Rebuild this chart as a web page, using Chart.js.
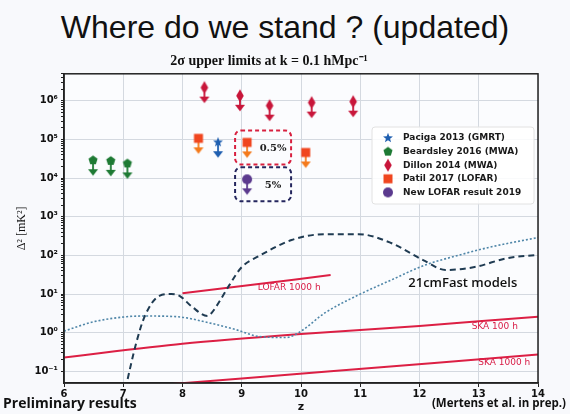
<!DOCTYPE html>
<html>
<head>
<meta charset="utf-8">
<script src="https://cdn.jsdelivr.net/npm/chart.js@4.4.1/dist/chart.umd.min.js"></script>
<style>
  body { margin: 0; background: #f8f9fc; width: 570px; height: 414px; overflow: hidden; }
  #title { height: 48px; text-align: center; font: 32px "Liberation Sans", Arial, sans-serif; line-height: 54px; color: #111; overflow: visible; }
  #wrap { position: relative; width: 570px; height: 366px; }
</style>
</head>
<body>
<div id="title">Where do we stand ? (updated)</div>
<div id="wrap"><canvas id="myChart" width="570" height="366"></canvas></div>
<script>
// upper limits (z, Delta^2 in mK^2)
const pacigaZ = [8.6];
const pacigaVal = [8.5e4];
const beardsleyZ = [6.49, 6.79, 7.07];
const beardsleyVal = [2.9e4, 2.8e4, 2.4e4];
const dillonZ = [8.37, 8.97, 9.47, 10.18, 10.88];
const dillonVal = [2.2e6, 1.35e6, 7.5e5, 9e5, 9.5e5];
const patilZ = [8.27, 9.09, 10.08];
const patilVal = [1.07e5, 8.4e4, 4.6e4];
const lofarZ = [9.09];
const lofarVal = [9.3e3];

// 21cmFast models
const dashedZ = [7.0, 7.22, 7.36, 7.61, 7.81, 7.95, 8.16, 8.42, 8.48, 8.62, 8.79, 9.0, 9.29, 9.84, 10.41, 10.97, 11.52, 12.09, 12.44, 12.93, 13.48, 14.0];
const dashedVal = [0.02, 0.55, 2.6, 9, 10, 9, 4.7, 2.7, 3.1, 6.3, 17, 50, 96, 250, 355, 355, 210, 72, 42, 50, 85, 104];
const dottedZ = [6.0, 6.49, 7.06, 7.39, 7.9, 8.45, 8.9, 9.29, 9.74, 9.96, 10.41, 10.97, 11.52, 12.09, 12.65, 13.2, 14.0];
const dottedVal = [1.1, 1.9, 2.6, 2.7, 2.6, 1.8, 1.2, 0.8, 0.75, 1.0, 3.3, 9.5, 23, 56, 100, 165, 290];

// sensitivity curves
const lofar1000Z = [8.0, 9.25, 10.5];
const lofar1000Val = [10.5, 18, 31];
const ska100Z = [6.0, 8.0, 10.0, 12.0, 14.0];
const ska100Val = [0.23, 0.52, 0.93, 1.5, 2.6];
const ska1000Z = [7.5, 10.5, 14.0];
const ska1000Val = [0.043, 0.1, 0.275];

// axis ticks
const xTicks = [6, 7, 8, 9, 10, 11, 12, 13, 14];
const yTickExps = [-1, 0, 1, 2, 3, 4, 5, 6];
const yTickLabels = ['10⁻¹', '10⁰', '10¹', '10²', '10³', '10⁴', '10⁵', '10⁶'];

// text placed in data coordinates
const curveLabels = [
  { text: 'LOFAR 1000 h', z: 9.8, v: 15, color: '#d81b45', font: '9px "DejaVu Sans"' },
  { text: 'SKA 100 h', z: 13.27, v: 1.43, color: '#d81b45', font: '9px "DejaVu Sans"' },
  { text: 'SKA 1000 h', z: 13.43, v: 0.17, color: '#d81b45', font: '9px "DejaVu Sans"' },
  { text: '21cmFast models', z: 12.73, v: 19.5, color: '#111', font: '600 13px "Open Sans"' }
];

const RED = '#dc1f44';

// marker images: the marker sits at the centre, the limit arrow hangs below it
function makeMarker(shape, color, arrowColor, withArrow) {
  const c = document.createElement('canvas');
  c.width = 16;
  c.height = withArrow ? 40 : 16;
  const ctx = c.getContext('2d');
  const cx = 8, cy = c.height / 2;
  if (withArrow) {
    ctx.strokeStyle = arrowColor;
    ctx.fillStyle = arrowColor;
    ctx.lineWidth = 1.8;
    ctx.beginPath();
    ctx.moveTo(cx, cy);
    ctx.lineTo(cx, cy + 10);
    ctx.stroke();
    ctx.beginPath();
    ctx.moveTo(cx - 5, cy + 9);
    ctx.lineTo(cx + 5, cy + 9);
    ctx.lineTo(cx, cy + 15.5);
    ctx.closePath();
    ctx.fill();
  }
  ctx.fillStyle = color;
  ctx.beginPath();
  if (shape === 'star') {
    for (let i = 0; i < 10; i++) {
      const r = i % 2 ? 2.2 : 5.2;
      const a = -Math.PI / 2 + i * Math.PI / 5;
      ctx.lineTo(cx + r * Math.cos(a), cy + r * Math.sin(a));
    }
  } else if (shape === 'pentagon') {
    for (let i = 0; i < 5; i++) {
      const a = -Math.PI / 2 + i * 2 * Math.PI / 5;
      ctx.lineTo(cx + 4.8 * Math.cos(a), cy + 4.8 * Math.sin(a));
    }
  } else if (shape === 'diamond') {
    ctx.moveTo(cx, cy - 6.5);
    ctx.lineTo(cx + 3.8, cy);
    ctx.lineTo(cx, cy + 6.5);
    ctx.lineTo(cx - 3.8, cy);
  } else if (shape === 'square') {
    ctx.rect(cx - 4.5, cy - 4.5, 9, 9);
  } else {
    ctx.arc(cx, cy, 5, 0, Math.PI * 2);
  }
  ctx.closePath();
  ctx.fill();
  return c;
}

const series = [
  { label: 'Paciga 2013 (GMRT)', z: pacigaZ, v: pacigaVal, shape: 'star', color: '#1f5fb0', arrow: '#1f5fb0' },
  { label: 'Beardsley 2016 (MWA)', z: beardsleyZ, v: beardsleyVal, shape: 'pentagon', color: '#1e7a34', arrow: '#1e7a34' },
  { label: 'Dillon 2014 (MWA)', z: dillonZ, v: dillonVal, shape: 'diamond', color: '#c8163a', arrow: '#c8163a' },
  { label: 'Patil 2017 (LOFAR)', z: patilZ, v: patilVal, shape: 'square', color: '#f0461f', arrow: '#f47a1c' },
  { label: 'New LOFAR result 2019', z: lofarZ, v: lofarVal, shape: 'circle', color: '#5b3a8e', arrow: '#5b3a8e' }
];

function pts(zs, vs) {
  return zs.map((z, i) => ({ x: z, y: vs[i] }));
}

const datasets = [
  { label: 'dashed', data: pts(dashedZ, dashedVal), showLine: true, borderColor: '#1f3b52', borderWidth: 2, borderDash: [6, 4], pointRadius: 0, cubicInterpolationMode: 'monotone' },
  { label: 'dotted', data: pts(dottedZ, dottedVal), showLine: true, borderColor: '#4f86a8', borderWidth: 1.6, borderDash: [2, 2], pointRadius: 0, cubicInterpolationMode: 'monotone' },
  { label: 'LOFAR 1000 h', data: pts(lofar1000Z, lofar1000Val), showLine: true, borderColor: RED, borderWidth: 2, pointRadius: 0, tension: 0.3 },
  { label: 'SKA 100 h', data: pts(ska100Z, ska100Val), showLine: true, borderColor: RED, borderWidth: 2, pointRadius: 0, tension: 0.3 },
  { label: 'SKA 1000 h', data: pts(ska1000Z, ska1000Val), showLine: true, borderColor: RED, borderWidth: 2, pointRadius: 0, tension: 0.3 }
];
series.forEach(s => {
  s.icon = makeMarker(s.shape, s.color, s.arrow, false);
  datasets.push({
    label: s.label,
    data: pts(s.z, s.v),
    showLine: false,
    pointStyle: makeMarker(s.shape, s.color, s.arrow, true),
    pointRadius: 8
  });
});

const bgPlugin = {
  id: 'bg',
  beforeDraw(chart) {
    const { ctx, chartArea: a } = chart;
    ctx.save();
    ctx.fillStyle = '#fbfcfe';
    ctx.fillRect(a.left, a.top, a.right - a.left, a.bottom - a.top);
    ctx.restore();
  }
};

const overlayPlugin = {
  id: 'overlay',
  afterDatasetsDraw(chart) {
    const { ctx, chartArea: a, scales } = chart;
    const xs = scales.x, ys = scales.y;
    ctx.save();

    // frame
    ctx.strokeStyle = '#222';
    ctx.lineWidth = 1.5;
    ctx.strokeRect(a.left, a.top, a.right - a.left, a.bottom - a.top);

    // curve labels
    ctx.textAlign = 'center';
    ctx.textBaseline = 'middle';
    curveLabels.forEach(l => {
      ctx.font = l.font;
      ctx.fillStyle = l.color;
      ctx.fillText(l.text, xs.getPixelForValue(l.z), ys.getPixelForValue(l.v));
    });

    // dashed boxes around the LOFAR z~9 limits
    const boxes = [
      { z: patilZ[1], v: patilVal[1], color: '#d8203f', text: '0.5%' },
      { z: lofarZ[0], v: lofarVal[0], color: '#24265e', text: '5%' }
    ];
    boxes.forEach(b => {
      const px = xs.getPixelForValue(b.z), py = ys.getPixelForValue(b.v);
      ctx.strokeStyle = b.color;
      ctx.lineWidth = 2;
      ctx.setLineDash([4, 3]);
      ctx.beginPath();
      ctx.roundRect(px - 12, py - 12, 56, 34, 6);
      ctx.stroke();
      ctx.setLineDash([]);
      ctx.fillStyle = '#222';
      ctx.font = 'bold 10px "DejaVu Serif"';
      ctx.fillText(b.text, px + 26, py + 6);
    });

    // legend
    const lx = 372, ly = 79;
    ctx.fillStyle = 'rgba(255,255,255,0.85)';
    ctx.strokeStyle = '#e2e2e2';
    ctx.lineWidth = 1;
    ctx.beginPath();
    ctx.roundRect(lx, ly, 162, 77, 3);
    ctx.fill();
    ctx.stroke();
    ctx.textAlign = 'left';
    ctx.font = 'bold 9px "DejaVu Sans"';
    series.forEach((s, i) => {
      const y = ly + 11 + i * 13.6;
      ctx.drawImage(s.icon, lx + 8, y - 8);
      ctx.fillStyle = '#1a1a1a';
      ctx.fillText(s.label, lx + 31, y);
    });

    ctx.restore();
  }
};

const footPlugin = {
  id: 'foot',
  afterDraw(chart) {
    const { ctx } = chart;
    ctx.save();
    ctx.fillStyle = '#111';
    ctx.textBaseline = 'middle';
    ctx.font = 'bold 14px "Open Sans"';
    ctx.textAlign = 'left';
    ctx.fillText('Preliminary results', 3, 356);
    ctx.font = 'bold 11.5px "Open Sans"';
    ctx.textAlign = 'right';
    ctx.fillText('(Mertens et al. in prep.)', 566, 356);
    ctx.restore();
  }
};

const isMajor = v => Math.abs(Math.log10(v) - Math.round(Math.log10(v))) < 1e-6;

const config = {
  type: 'scatter',
  data: { datasets: datasets },
  options: {
    responsive: false,
    animation: false,
    layout: { padding: { left: 0, right: 32, top: 0, bottom: 0 } },
    plugins: {
      legend: { display: false },
      tooltip: { enabled: false },
      title: {
        display: true,
        text: '2σ upper limits at k = 0.1 hMpc⁻¹',
        color: '#111',
        font: { family: '"Liberation Serif"', size: 14, weight: 'bold' },
        padding: { top: 5, bottom: 4 }
      }
    },
    scales: {
      x: {
        type: 'linear',
        min: 6,
        max: 14,
        afterBuildTicks: s => { s.ticks = xTicks.map(v => ({ value: v })); },
        afterFit: s => { s.height = 31; },
        ticks: { color: '#111', font: { family: '"DejaVu Sans"', size: 10, weight: 'bold' }, padding: 1 },
        grid: { color: '#d4d9e0', lineWidth: 1, tickLength: 4, tickColor: '#222' },
        border: { color: '#222', width: 1.5 },
        title: { display: true, text: 'z', color: '#111', font: { family: '"DejaVu Sans"', size: 11, weight: 'bold' }, padding: 0 }
      },
      y: {
        type: 'logarithmic',
        min: 0.05,
        max: 5e6,
        afterBuildTicks: s => {
          const t = [];
          yTickExps.forEach(e => {
            for (let m = 1; m < 10; m++) {
              const v = m * Math.pow(10, e);
              if (v >= 0.05 && v <= 5e6) t.push({ value: v });
            }
          });
          s.ticks = t;
        },
        afterFit: s => { s.width = 64; },
        ticks: {
          autoSkip: false,
          color: '#111',
          font: { family: '"DejaVu Sans"', size: 10, weight: 'bold' },
          padding: 3,
          callback: v => isMajor(v) ? yTickLabels[yTickExps.indexOf(Math.round(Math.log10(v)))] : ''
        },
        grid: {
          color: c => (c.tick && isMajor(c.tick.value)) ? '#d4d9e0' : 'rgba(0,0,0,0)',
          tickColor: '#222',
          tickLength: c => (c.tick && isMajor(c.tick.value)) ? 5 : 3
        },
        border: { color: '#222', width: 1.5 },
        title: { display: true, text: 'Δ² [mK²]', color: '#111', font: { family: '"Liberation Serif"', size: 12 }, padding: { top: 15, bottom: 0 } }
      }
    }
  },
  plugins: [bgPlugin, overlayPlugin, footPlugin]
};

const myChart = new Chart(document.getElementById('myChart'), config);
</script>
</body>
</html>
